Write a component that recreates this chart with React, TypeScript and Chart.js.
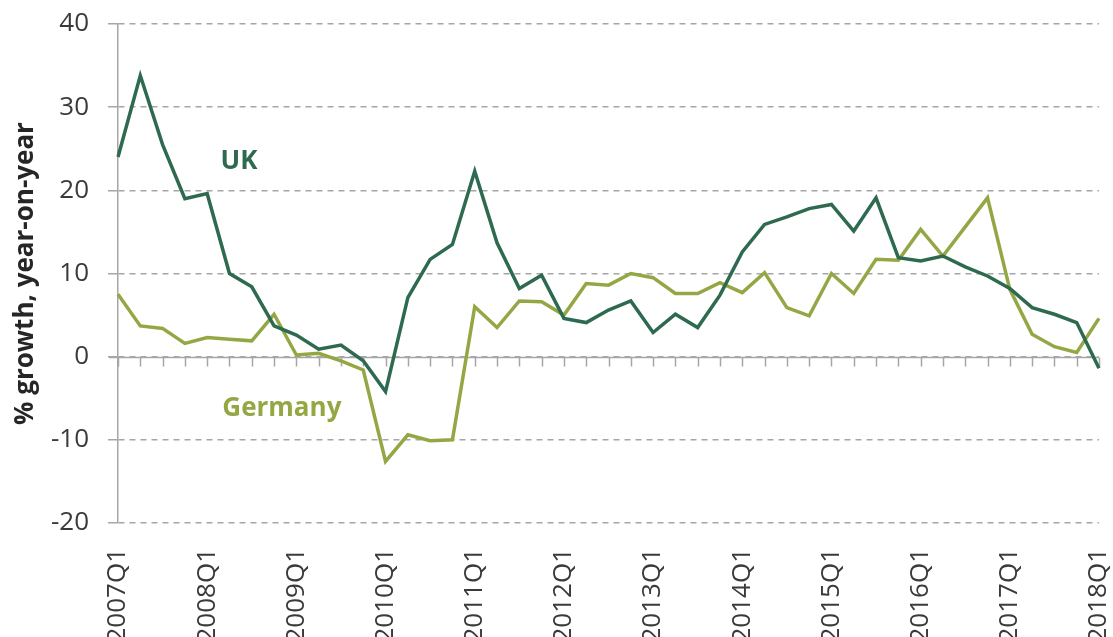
import React, { useEffect, useRef } from "react";
import { Chart, registerables } from "chart.js";

Chart.register(...registerables);

const years = [2007, 2008, 2009, 2010, 2011, 2012, 2013, 2014, 2015, 2016, 2017, 2018];
const quarters: string[] = [];
years.forEach((y) => {
  for (let q = 1; q <= 4; q++) {
    if (y === 2018 && q > 1) break;
    quarters.push(`${y}Q${q}`);
  }
});

const ukValues = [
  24.0, 33.8, 25.5, 19.0, 19.6, 10.0, 8.4, 3.7, 2.6, 0.9, 1.4, -0.5,
  -4.2, 7.1, 11.7, 13.5, 22.3, 13.7, 8.2, 9.8, 4.6, 4.1, 5.6, 6.7,
  2.9, 5.1, 3.5, 7.4, 12.6, 15.9, 16.8, 17.8, 18.3, 15.1, 19.1, 11.9,
  11.5, 12.1, 10.8, 9.7, 8.2, 5.9, 5.1, 4.1, -1.4,
];

const germanyValues = [
  7.5, 3.7, 3.4, 1.6, 2.3, 2.1, 1.9, 5.1, 0.2, 0.4, -0.5, -1.6,
  -12.6, -9.4, -10.1, -10.0, 6.0, 3.5, 6.7, 6.6, 5.0, 8.8, 8.6, 10.0,
  9.5, 7.6, 7.6, 8.9, 7.7, 10.1, 5.9, 4.9, 10.0, 7.6, 11.7, 11.6,
  15.3, 12.1, 15.6, 19.1, 8.1, 2.7, 1.2, 0.5, 4.6,
];

const yTicks = { min: -20, max: 40, step: 10 };

const UK_COLOR = "#2e6a4f";
const DE_COLOR = "#93a844";
const AXIS_COLOR = "#a6a6a6";
const FONT = "'Open Sans', 'Noto Sans', sans-serif";

const seriesLabels = [
  { text: "UK", color: UK_COLOR, index: 5.43, value: 23.4 },
  { text: "Germany", color: DE_COLOR, index: 7.35, value: -6.2 },
];

const zeroAxisPlugin = {
  id: "zeroAxis",
  beforeDatasetsDraw(chart: any) {
    const { ctx, chartArea, scales } = chart;
    const y0 = Math.round(scales.y.getPixelForValue(0)) + 0.5;
    ctx.save();
    ctx.strokeStyle = AXIS_COLOR;
    ctx.lineWidth = 1.5;
    ctx.setLineDash([]);
    ctx.beginPath();
    ctx.moveTo(chartArea.left - 9, y0);
    ctx.lineTo(chartArea.right, y0);
    for (let i = 0; i < quarters.length; i++) {
      const x = Math.round(scales.x.getPixelForValue(i)) + 0.5;
      ctx.moveTo(x, y0);
      ctx.lineTo(x, y0 + 9);
    }
    ctx.stroke();
    ctx.restore();
  },
  afterDatasetsDraw(chart: any) {
    const { ctx, scales } = chart;
    ctx.save();
    ctx.font = `bold 26px ${FONT}`;
    ctx.textAlign = "center";
    ctx.textBaseline = "middle";
    seriesLabels.forEach((l) => {
      ctx.fillStyle = l.color;
      ctx.fillText(l.text, scales.x.getPixelForValue(l.index), scales.y.getPixelForValue(l.value));
    });
    ctx.restore();
  },
};

const zeroPadding = (scale: any) => {
  scale.paddingTop = 0;
  scale.paddingBottom = 0;
  scale.paddingLeft = 0;
  scale.paddingRight = 0;
};

export default function App() {
  const ref = useRef<HTMLCanvasElement>(null);

  useEffect(() => {
    document.body.style.margin = "0";
    if (!ref.current) return;
    const chart = new Chart(ref.current, {
      type: "line",
      data: {
        labels: quarters,
        datasets: [
          {
            label: "UK",
            data: ukValues,
            borderColor: UK_COLOR,
            backgroundColor: UK_COLOR,
            borderWidth: 3.5,
            pointRadius: 0,
            tension: 0,
          },
          {
            label: "Germany",
            data: germanyValues,
            borderColor: DE_COLOR,
            backgroundColor: DE_COLOR,
            borderWidth: 3.5,
            pointRadius: 0,
            tension: 0,
          },
        ],
      },
      options: {
        animation: false,
        responsive: false,
        maintainAspectRatio: false,
        layout: { padding: { top: 24, right: 14, left: 0, bottom: 0 } },
        plugins: {
          legend: { display: false },
          tooltip: { enabled: false },
        },
        scales: {
          x: {
            type: "category",
            offset: false,
            grid: { display: false, drawTicks: false },
            border: { display: false },
            ticks: {
              autoSkip: false,
              minRotation: 90,
              maxRotation: 90,
              padding: 25,
              color: "#3a3a3a",
              font: { family: FONT, size: 26 },
              callback: (_v: any, i: number) => (i % 4 === 0 ? quarters[i] : ""),
            },
            afterFit: (scale: any) => {
              scale.height = 114;
              zeroPadding(scale);
            },
          },
          y: {
            min: yTicks.min,
            max: yTicks.max,
            grid: {
              color: AXIS_COLOR,
              lineWidth: 1.5,
              drawTicks: true,
              tickLength: 10,
              tickColor: AXIS_COLOR,
              tickBorderDash: [],
            },
            border: { display: true, color: AXIS_COLOR, width: 1.5, dash: [6, 5] },
            ticks: {
              stepSize: yTicks.step,
              padding: 19,
              color: "#3a3a3a",
              font: { family: FONT, size: 26 },
            },
            title: {
              display: true,
              text: "% growth, year-on-year",
              color: "#262626",
              font: { family: FONT, size: 26, weight: "bold" },
              padding: { top: 10, bottom: 0 },
            },
            afterFit: (scale: any) => {
              scale.width = 118;
              zeroPadding(scale);
            },
          },
        },
      },
      plugins: [zeroAxisPlugin],
    });
    return () => chart.destroy();
  }, []);

  return (
    <div style={{ width: 1113, height: 637 }}>
      <canvas ref={ref} width={1113} height={637} style={{ display: "block" }} />
    </div>
  );
}
